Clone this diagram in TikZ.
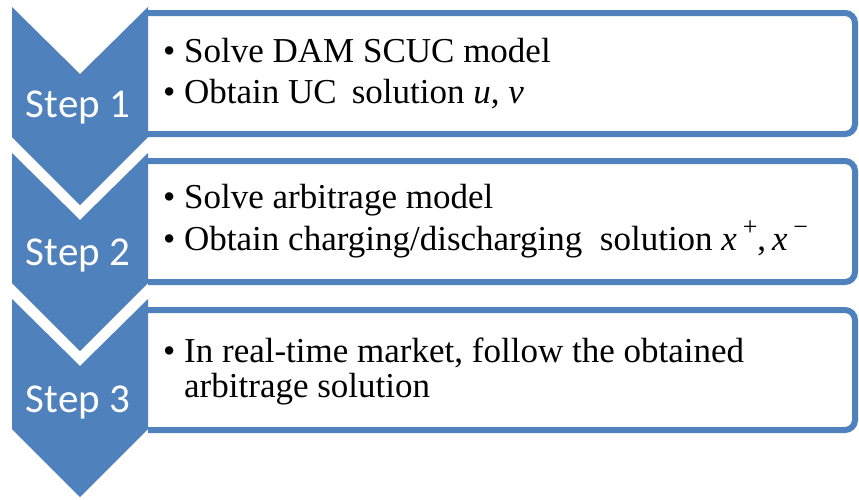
\documentclass[tikz,border=0pt]{standalone}
\usepackage{fontspec}
\setmainfont{Liberation Serif}
\newfontfamily\stepfont{Carlito}
\definecolor{stepblue}{HTML}{4F81BD}
\newcommand{\supsym}[1]{\raisebox{0.42em}{\fontsize{26}{26}\selectfont #1}}
\begin{document}
\begin{tikzpicture}[x=1pt,y=-1pt,
  chev/.style={fill=stepblue, draw=none},
  stepbox/.style={draw=stepblue, line width=6pt, rounded corners=10pt, fill=white},
  steplabel/.style={text=white, font=\stepfont\fontsize{41}{41}\selectfont, inner sep=0pt, anchor=base},
  itemtext/.style={font=\fontsize{35}{35}\selectfont, inner sep=0pt, anchor=base west},
]
\useasboundingbox (0,0) rectangle (859,499);
% boxes (left side hidden behind the chevrons)
\begin{scope}
  \clip (148,0) rectangle (859,499);
  \draw[stepbox] (125,13) rectangle (855,134);
  \draw[stepbox] (125,161) rectangle (855,282);
  \draw[stepbox] (125,310) rectangle (855,430);
\end{scope}
% chevrons
\foreach \t in {7,153,299}{
  \fill[chev] (12,\t) -- (80,\t+67) -- (148,\t) -- (148,\t+130) -- (80,\t+198) -- (12,\t+130) -- cycle;
}
% step labels
\node[steplabel] (s1) at (78,117) {Step 1};
\node[steplabel] (s2) at (78,265) {Step 2};
\node[steplabel] (s3) at (78,412) {Step 3};
% box 1 text
\node[itemtext] (p1a) at (163,62) {•};
\node[itemtext] (t1a) at (184,62) {Solve DAM SCUC model};
\node[itemtext] (p1b) at (163,103) {•};
\node[itemtext] (t1b) at (184,103) {Obtain UC\hspace{0.43em}solution \textit{u}, \textit{v}};
% box 2 text
\node[itemtext] (p2a) at (163,208) {•};
\node[itemtext] (t2a) at (184,208) {Solve arbitrage model};
\node[itemtext] (p2b) at (163,250) {•};
\node[itemtext] (t2b) at (184,250) {Obtain charging/discharging\hspace{0.5em}solution \textit{x}\,\supsym{+},\,\textit{x}\,\supsym{−}};
% box 3 text
\node[itemtext] (p3a) at (163,362) {•};
\node[itemtext] (t3a) at (184,362) {In real-time market, follow the obtained};
\node[itemtext] (t3b) at (184,397) {arbitrage solution};
\end{tikzpicture}
\end{document}
